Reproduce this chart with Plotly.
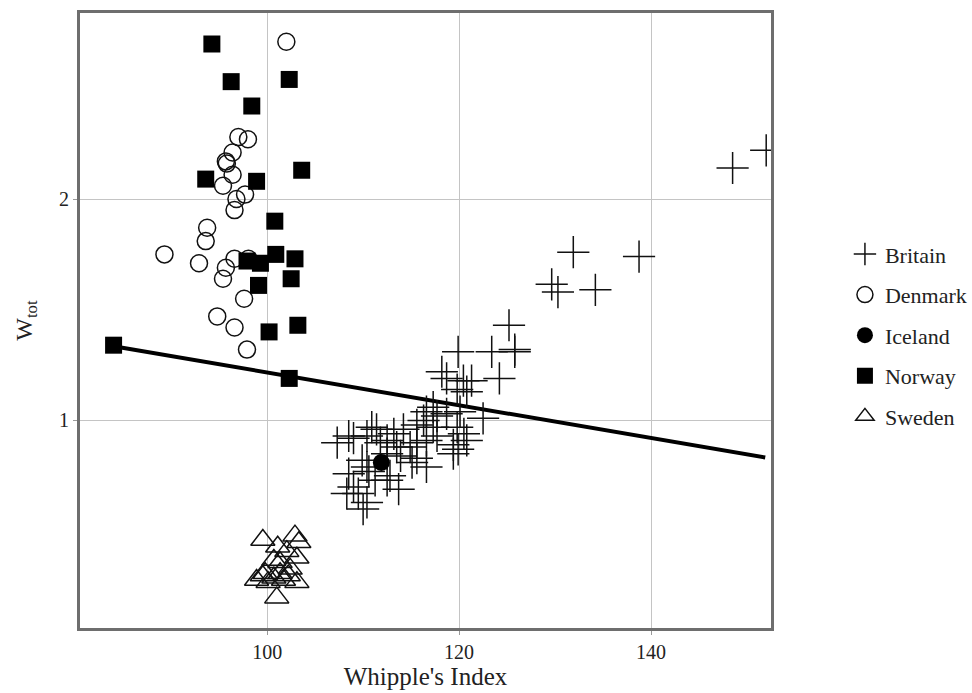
import plotly.graph_objects as go

# ---- data ----
britain_x = [152.0, 148.5, 131.9, 138.75, 129.65, 130.3, 134.2, 125.2, 125.8,
             119.9, 123.4, 125.8, 124.2, 118.2, 118.7, 120.45, 121.3, 119.8, 120.8,
             117.3, 116.6, 117.7, 118.7, 120.1, 122.5, 116.3, 115.6, 117.3, 119.8,
             120.5, 120.8, 119.4, 116.6, 117.7, 115.6, 114.9, 115.6, 115.1, 116.6,
             114.2, 113.2, 112.5, 113.5, 113.9, 112.5, 112.8, 113.7, 112.5, 110.9,
             111.4, 110.4, 111.8, 108.5, 109.0, 107.3, 109.9, 110.4, 108.5, 109.0,
             108.3, 109.5, 110.0, 110.4, 110.6, 111.25, 119.4, 119.9]
britain_w = [2.22, 2.14, 1.76, 1.74, 1.615, 1.58, 1.59, 1.43, 1.32,
             1.31, 1.31, 1.31, 1.19, 1.22, 1.19, 1.18, 1.18, 1.14, 1.13,
             1.06, 1.04, 1.02, 1.03, 1.04, 1.01, 1.00, 0.98, 0.97, 0.97,
             0.94, 0.91, 0.85, 0.91, 0.93, 0.90, 0.88, 0.83, 0.81, 0.79,
             0.96, 0.94, 0.91, 0.88, 0.84, 0.85, 0.75, 0.69, 0.73, 0.97,
             0.96, 0.93, 0.90, 0.93, 0.92, 0.90, 0.82, 0.79, 0.76, 0.70,
             0.67, 0.67, 0.60, 0.63, 0.77, 0.73, 0.89, 0.87]

denmark_x = [102.0, 97.0, 98.0, 96.4, 95.7, 95.8, 96.4, 95.4, 97.7, 96.8, 96.6,
             93.75, 93.6, 89.3, 92.9, 96.6, 98.05, 95.7, 95.4, 97.6, 94.8, 96.6, 97.9]
denmark_w = [2.71, 2.28, 2.27, 2.21, 2.17, 2.16, 2.11, 2.06, 2.02, 2.00, 1.95,
             1.87, 1.81, 1.75, 1.71, 1.73, 1.73, 1.69, 1.64, 1.55, 1.47, 1.42, 1.32]

iceland_x = [111.9]
iceland_w = [0.81]

norway_x = [94.24, 96.25, 102.3, 98.4, 103.6, 93.6, 98.9, 100.8, 100.9, 97.9,
            99.3, 102.9, 102.5, 99.1, 103.2, 100.2, 84.0, 102.3]
norway_w = [2.70, 2.53, 2.54, 2.42, 2.13, 2.09, 2.08, 1.90, 1.75, 1.72,
            1.71, 1.73, 1.64, 1.61, 1.43, 1.40, 1.34, 1.19]

sweden_x = [99.55, 102.9, 103.3, 101.1, 102.05, 103.1, 100.7, 101.35, 102.4, 99.8,
            98.9, 100.7, 101.7, 103.1, 100.1, 101.0, 99.5, 102.2, 101.35]
sweden_w = [0.46, 0.48, 0.45, 0.43, 0.41, 0.38, 0.37, 0.36, 0.33, 0.31,
            0.28, 0.29, 0.28, 0.27, 0.27, 0.20, 0.30, 0.30, 0.31]

fit_x = [84.0, 151.9]
fit_w = [1.335, 0.833]

x_ticks = [100, 120, 140]
y_ticks = [1, 2]

FONT = "Liberation Serif"

fig = go.Figure()
fig.add_trace(go.Scatter(x=fit_x, y=fit_w, mode="lines", line=dict(color="black", width=4),
                         showlegend=False, hoverinfo="skip"))
fig.add_trace(go.Scatter(x=britain_x, y=britain_w, mode="markers", name="Britain",
                         legendgroup="a",
                         marker=dict(symbol="cross-thin-open", size=23, color="#111",
                                     line=dict(color="#111", width=1.5))))
fig.add_trace(go.Scatter(x=denmark_x, y=denmark_w, mode="markers", name="Denmark",
                         legendgroup="b",
                         marker=dict(symbol="circle-open", size=17, color="#111",
                                     line=dict(color="#111", width=1.5))))
fig.add_trace(go.Scatter(x=iceland_x, y=iceland_w, mode="markers", name="Iceland",
                         legendgroup="c",
                         marker=dict(symbol="circle", size=17, color="black")))
fig.add_trace(go.Scatter(x=norway_x, y=norway_w, mode="markers", name="Norway",
                         legendgroup="d",
                         marker=dict(symbol="square", size=17, color="black")))
fig.add_trace(go.Scatter(x=sweden_x, y=sweden_w, mode="markers", name="Sweden",
                         legendgroup="e",
                         marker=dict(symbol="triangle-up-open", size=21, color="#111",
                                     line=dict(color="#111", width=1.5))))

axis_common = dict(showgrid=True, gridcolor="#c4c4c4", gridwidth=1,
                   showline=True, linecolor="#6e6e6e", linewidth=3, mirror=True,
                   zeroline=False, ticks="outside", ticklen=4, tickcolor="#9a9a9a",
                   tickfont=dict(family=FONT, size=20, color="#222"))

fig.update_layout(
    width=972, height=693,
    margin=dict(l=80, r=201, t=13, b=65, autoexpand=False),
    paper_bgcolor="white", plot_bgcolor="white",
    font=dict(family=FONT, color="#222"),
    xaxis=dict(range=[80.5, 152.5], tickvals=x_ticks,
               title=dict(text="Whipple's Index", font=dict(family=FONT, size=25), standoff=3),
               **axis_common),
    yaxis=dict(range=[0.063, 2.84], tickvals=y_ticks,
               title=dict(text="W<sub>tot</sub>", font=dict(family=FONT, size=24), standoff=20),
               **axis_common),
    legend=dict(x=1.107, y=0.642, xanchor="left", yanchor="top",
                font=dict(family=FONT, size=22, color="#222"),
                tracegroupgap=9, itemsizing="trace", bgcolor="rgba(0,0,0,0)"),
)

fig.write_html("out.html")
